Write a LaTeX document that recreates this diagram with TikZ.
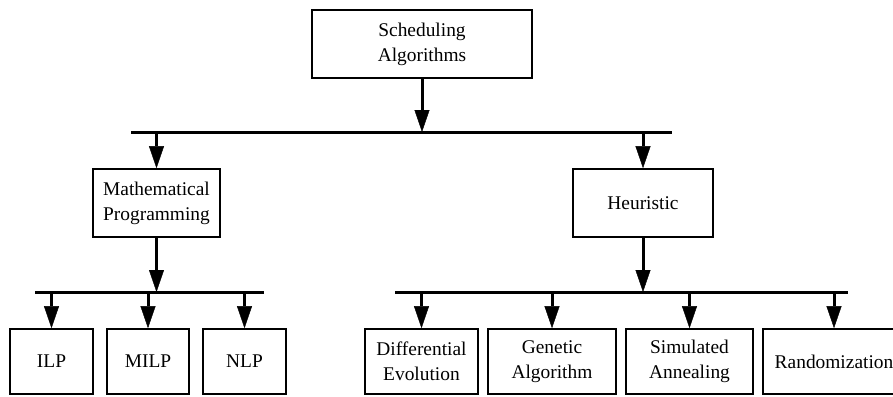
\documentclass[tikz,border=0pt]{standalone}
\usepackage{fontspec}
\setmainfont{Liberation Serif}
\usetikzlibrary{arrows.meta}

\tikzset{
  box/.style={draw, line width=1.6pt, inner sep=0pt, align=center,
    minimum height=68pt, font=\fontsize{19.4}{25}\selectfont},
  leaf/.style={box, minimum height=65pt},
  bus/.style={line width=3pt},
  arr/.style={line width=3pt,
    -{Triangle[length=22pt, width=15pt, line width=0.4pt]}},
}

\begin{document}
\begin{tikzpicture}[x=1pt, y=-1pt]
  \useasboundingbox (0,0) rectangle (893,396);

  % root
  \node[box, minimum width=220pt] (root) at (422,44) {Scheduling\\Algorithms};

  % second level
  \node[box, minimum width=127pt] (math) at (156.5,203) {Mathematical\\Programming};
  \node[box, minimum width=140pt] (heur) at (643,203) {Heuristic};

  % leaves under mathematical programming
  \node[leaf, minimum width=83pt] (ilp)  at (51.5,361.5)  {ILP};
  \node[leaf, minimum width=82pt] (milp) at (148,361.5)   {MILP};
  \node[leaf, minimum width=83pt] (nlp)  at (244.5,361.5) {NLP};

  % leaves under heuristic
  \node[leaf, minimum width=113pt] (de)   at (421.5,361.5) {Differential\\Evolution};
  \node[leaf, minimum width=128pt] (ga)   at (552,361.5)   {Genetic\\Algorithm};
  \node[leaf, minimum width=127pt] (sa)   at (689.5,361.5) {Simulated\\Annealing};
  \node[leaf, minimum width=142pt] (rnd)  at (834,361.5)   {Randomization};

  % bus bars
  \coordinate (topL) at (131,132);
  \coordinate (topR) at (672,132);
  \coordinate (mpL)  at (35,292);
  \coordinate (mpR)  at (264,292);
  \coordinate (heL)  at (395,292);
  \coordinate (heR)  at (848,292);

  \draw[bus] (topL) -- (topR);
  \draw[bus] (mpL) -- (mpR);
  \draw[bus] (heL) -- (heR);

  % root to first bus, then down to second level
  \draw[arr] (root.south) -- (root.south |- topL);
  \draw[arr] (math.north |- topL) -- (math.north);
  \draw[arr] (heur.north |- topL) -- (heur.north);

  % second level to lower buses
  \draw[arr] (math.south) -- (math.south |- mpL);
  \draw[arr] (heur.south) -- (heur.south |- heL);

  % lower buses to leaves
  \foreach \n in {ilp, milp, nlp}
    \draw[arr] (\n.north |- mpL) -- (\n.north);
  \foreach \n in {de, ga, sa, rnd}
    \draw[arr] (\n.north |- heL) -- (\n.north);
\end{tikzpicture}
\end{document}
